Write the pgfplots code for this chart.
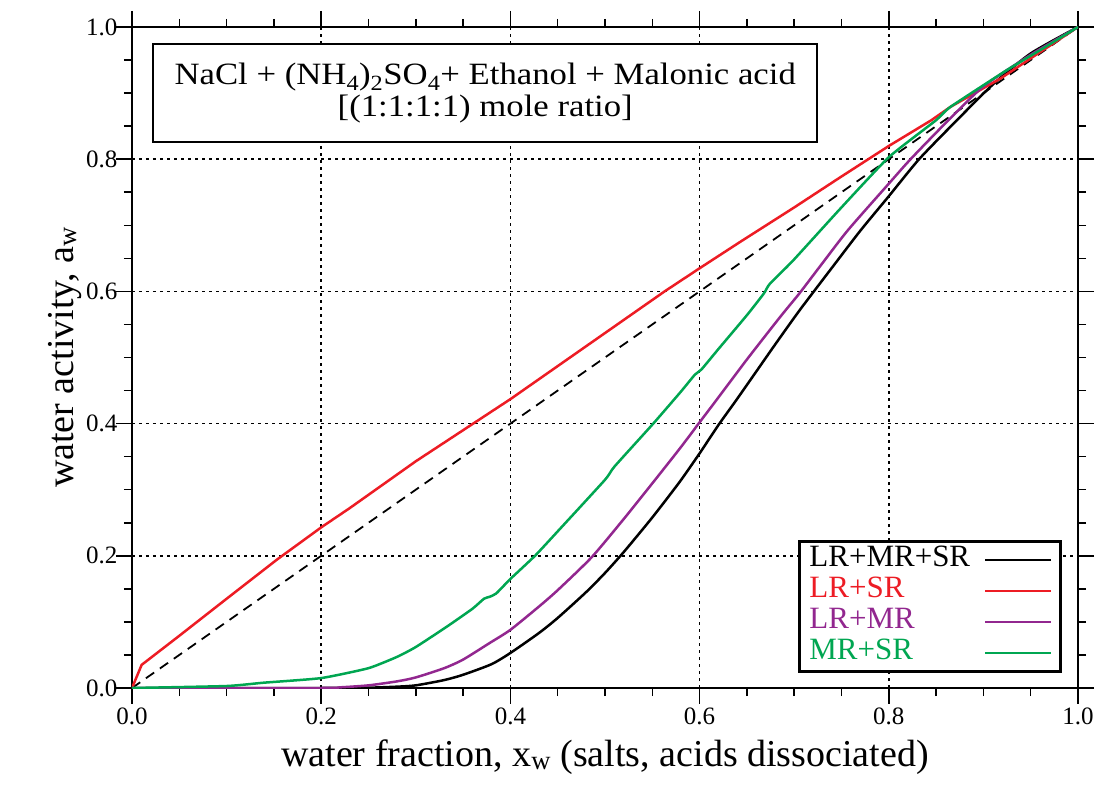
\documentclass[border=0pt]{standalone}
\usepackage{fontspec}
\setmainfont{Liberation Serif}
\newfontfamily\titlefont[FakeStretch=1.12]{Liberation Serif}
\usepackage{pgfplots}
\pgfplotsset{compat=1.18}
\definecolor{cred}{RGB}{237,28,36}
\definecolor{cpurple}{RGB}{146,39,143}
\definecolor{cgreen}{RGB}{0,166,81}

\begin{document}
\begin{tikzpicture}
\begin{axis}[
  name=ax,
  scale only axis, width=946pt, height=661pt,
  xmin=0, xmax=1, ymin=0, ymax=1,
  xtick={0,0.2,0.4,0.6,0.8,1}, ytick={0,0.2,0.4,0.6,0.8,1},
  minor x tick num=3, minor y tick num=3,
  tick align=outside, major tick length=16pt, minor tick length=8pt,
  every tick/.style={line width=1.5pt, black},
  axis line style={line width=2.5pt},
  grid=major, major grid style={dash pattern=on 3pt off 4pt, line width=1.5pt, black},
  xticklabel={\pgfmathprintnumber[assume math mode=true,fixed,fixed zerofill,precision=1]{\tick}},
  yticklabel={\pgfmathprintnumber[assume math mode=true,fixed,fixed zerofill,precision=1]{\tick}},
  tick label style={font=\fontsize{25}{29}\selectfont},
  yticklabel style={xshift=5pt},
  xlabel={water fraction, x\textsubscript{w} (salts, acids dissociated)},
  ylabel={water activity, a\textsubscript{w}},
  label style={font=\fontsize{38}{44}\selectfont},
  xlabel style={yshift=-8pt},
  ylabel style={yshift=-2pt},
  legend plot pos=right,
  legend cell align=left,
  legend image code/.code={\draw[#1] (0pt,0pt) -- (66pt,0pt);},
  legend style={at={(axis cs:0.983,0.0227)}, anchor=south east, draw=black, line width=2.5pt,
    font=\fontsize{31}{36}\selectfont, /tikz/column sep=12pt, /tikz/row sep=0pt,
    nodes={text height=21pt, text depth=8pt, inner ysep=1pt}, inner xsep=8pt, inner ysep=3pt},
]
\addplot[black, line width=1.8pt, dash pattern=on 10pt off 7pt, forget plot] coordinates {(0,0) (1,1)};

\addplot[black, line width=2.5pt, smooth, tension=0.4] coordinates {
(0,0) (0.1,0) (0.2,0) (0.25,0.0005) (0.28,0.002) (0.3,0.004) (0.33,0.012) (0.35,0.02)
(0.38,0.036) (0.4,0.053) (0.43,0.083) (0.45,0.106) (0.48,0.145) (0.5,0.174) (0.52,0.206)
(0.55,0.258) (0.579,0.312) (0.6,0.355) (0.62,0.398) (0.639,0.436) (0.66,0.479) (0.68,0.52)
(0.706,0.572) (0.74,0.636) (0.77,0.692) (0.8,0.744) (0.832,0.8) (0.872,0.859) (0.91,0.913)
(0.95,0.96) (1,1)};
\addlegendentry{LR+MR+SR}

\addplot[cred, line width=2.5pt] coordinates {
(0,0) (0.0102,0.035) (0.05,0.079) (0.1,0.135) (0.153,0.194) (0.2,0.243) (0.23,0.272)
(0.3,0.343) (0.4,0.437) (0.5,0.537) (0.563,0.6) (0.6,0.635) (0.643,0.675) (0.7,0.727)
(0.748,0.772) (0.8,0.82) (0.845,0.859) (0.865,0.879) (0.918,0.922) (0.96,0.962) (1,1)};
\addlegendentry{\textcolor{cred}{LR+SR}}

\addplot[cpurple, line width=2.5pt, smooth, tension=0.4] coordinates {
(0,0) (0.2,0) (0.22,0.001) (0.25,0.004) (0.28,0.01) (0.3,0.016) (0.33,0.03) (0.35,0.043)
(0.378,0.068) (0.4,0.088) (0.43,0.123) (0.45,0.148) (0.486,0.198) (0.52,0.256) (0.553,0.315)
(0.58,0.364) (0.6,0.402) (0.618,0.436) (0.65,0.497) (0.6855,0.562) (0.7055,0.597) (0.73,0.643)
(0.757,0.693) (0.8,0.763) (0.823,0.8) (0.863,0.859) (0.9,0.91) (0.95,0.958) (1,1)};
\addlegendentry{\textcolor{cpurple}{LR+MR}}

\addplot[cgreen, line width=2.5pt, smooth, tension=0.3] coordinates {
(0,0) (0.1,0.003) (0.139,0.008) (0.2,0.015) (0.25,0.03) (0.28,0.047) (0.3,0.062) (0.333,0.093)
(0.36,0.12) (0.372,0.135) (0.378,0.138) (0.385,0.143) (0.4,0.165) (0.426,0.2) (0.45,0.237)
(0.5,0.315) (0.51,0.335) (0.551,0.4) (0.58,0.448) (0.595,0.474) (0.602,0.482) (0.62,0.513)
(0.65,0.564) (0.668,0.597) (0.674,0.611) (0.699,0.647) (0.748,0.724) (0.8,0.803) (0.85,0.859)
(0.865,0.879) (0.925,0.935) (0.96,0.965) (1,1)};
\addlegendentry{\textcolor{cgreen}{MR+SR}}

\node[draw=black, line width=2.5pt, fill=white, anchor=north west, minimum width=664pt,
  minimum height=98pt, align=center, font=\titlefont\fontsize{31}{32}\selectfont, inner sep=4pt]
  at (axis cs:0.0211,0.976)
  {NaCl + (NH\textsubscript{4})\textsubscript{2}SO\textsubscript{4}+ Ethanol + Malonic acid\\{[}(1:1:1:1) mole ratio]};
\end{axis}
\pgfresetboundingbox
\path[use as bounding box] ([xshift=-132pt,yshift=-99pt]ax.south west) rectangle ([xshift=24pt,yshift=27pt]ax.north east);
\end{tikzpicture}
\end{document}
